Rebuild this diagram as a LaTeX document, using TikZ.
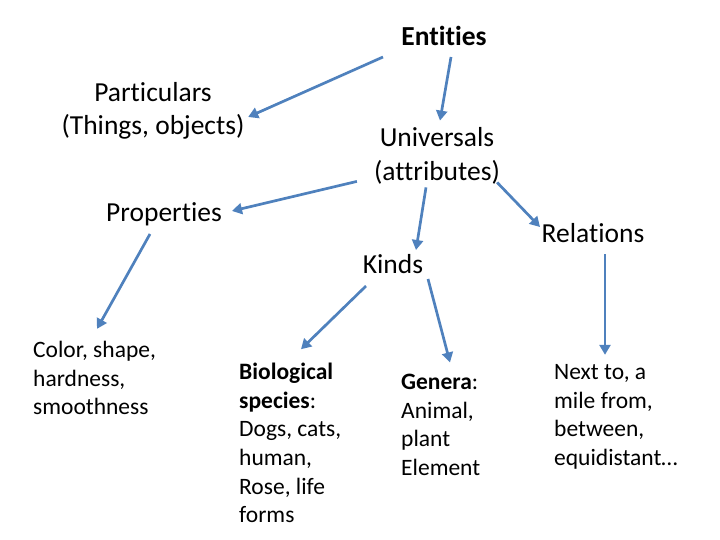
\documentclass[tikz,border=0pt]{standalone}
\usepackage{fontspec}
\setmainfont{Carlito}[RawFeature={-liga;-clig;-calt;-dlig}]
\usepackage{tikz}
\usetikzlibrary{arrows.meta}
\definecolor{linkblue}{RGB}{79, 129, 189}
\tikzset{
  big/.style={inner sep=0pt, font=\fontsize{27.5}{33.5}\selectfont},
  small/.style={inner sep=0pt, align=left, font=\fontsize{23.5}{28.7}\selectfont},
  link/.style={draw=linkblue, line width=2.7pt, -{Triangle[length=10pt, width=11pt]}},
}

\begin{document}
\begin{tikzpicture}[x=1pt, y=-1pt]
\useasboundingbox (0,0) rectangle (720,540);

\node[big, anchor=base] (entities) at (444,46) {\textbf{Entities}};
\node[big, align=center] (particulars) at (153,111) {Particulars\\(Things, objects)};
\node[big, align=center] (universals) at (437,156) {Universals\\(attributes)};
\node[big, anchor=base] (properties) at (164,222) {Properties};
\node[big, anchor=base] (kinds) at (393,273) {Kinds};
\node[big, anchor=base] (relations) at (593,243) {Relations};

\node[small, anchor=west] (qualities) at (33,378) {Color, shape,\\hardness,\\smoothness};
\node[small, anchor=west] (species) at (239,443) {\textbf{Biological}\\\textbf{species}: \\Dogs, cats,\\human,\\Rose, life\\forms};
\node[small, anchor=west] (genera) at (401,425) {\textbf{Genera}:\\Animal,\\plant\\Element};
\node[small, anchor=west] (nextto) at (554,417) {Next to, a\\mile from,\\between,\\equidistant\ldots};

% Arrows
\draw[link] ([shift={(-61,11)}]entities.base) -- ([shift={(3.5,6)}]particulars.east);
\draw[link] ([shift={(7,11)}]entities.base) -- ([shift={(3,-7)}]universals.north);
\draw[link] ([shift={(-17,-3)}]universals.south west) -- ([shift={(68,-11)}]properties.base);
\draw[link] ([shift={(-11,3)}]universals.south) -- ([shift={(23,-23)}]kinds.base);
\draw[link] ([shift={(-3,-2)}]universals.south east) -- ([shift={(-53,-16)}]relations.base);
\draw[link] ([shift={(-14,12)}]properties.base) -- ([shift={(64,-12)}]qualities.north west);
\draw[link] ([shift={(-27,13)}]kinds.base) -- ([shift={(62,-13.5)}]species.north west);
\draw[link] ([shift={(35,6)}]kinds.base) -- ([shift={(49,-11.5)}]genera.north west);
\draw[link] ([shift={(12,11)}]relations.base) -- ([shift={(51,-9.5)}]nextto.north west);

\end{tikzpicture}
\end{document}
